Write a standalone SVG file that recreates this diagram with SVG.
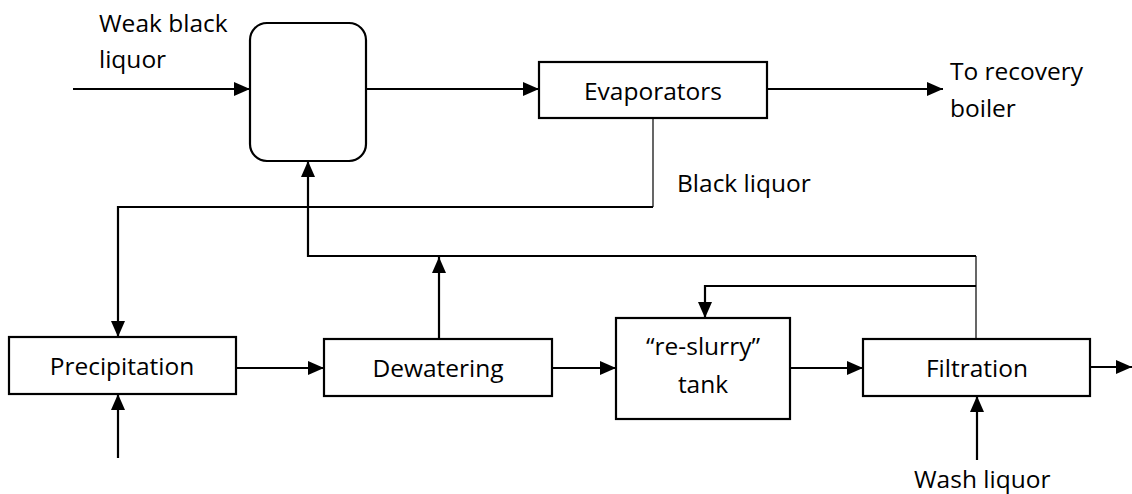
<svg xmlns="http://www.w3.org/2000/svg" width="1132" height="494" viewBox="0 0 1132 494">
<style>
.box{fill:#fff;stroke:#000;stroke-width:2.2}
.ln{fill:none;stroke:#000;stroke-width:2.2}
.thin{fill:none;stroke:#000;stroke-width:1.2}
.t{font-family:"Open Sans","Liberation Sans",sans-serif;font-size:24.5px;fill:#000}
.c{text-anchor:middle}
</style>
<defs>
<marker id="ah" markerUnits="userSpaceOnUse" markerWidth="17" markerHeight="15" refX="16" refY="7" orient="auto">
<path d="M0,0 L16,7 L0,14 Z" fill="#000"/>
</marker>
</defs>
<rect width="1132" height="494" fill="#fff"/>
<g id="connectors">
<path class="ln" d="M73,89 L250,89" marker-end="url(#ah)"/>
<path class="ln" d="M366,89 L539,89" marker-end="url(#ah)"/>
<path class="ln" d="M767,89 L943,89" marker-end="url(#ah)"/>
<path class="thin" d="M653,118 L653,207"/>
<path class="ln" d="M653,207 L118,207 L118,337" marker-end="url(#ah)"/>
<path class="ln" d="M118,458 L118,394" marker-end="url(#ah)"/>
<path class="ln" d="M236,368 L324,368" marker-end="url(#ah)"/>
<path class="ln" d="M439,339 L439,257" marker-end="url(#ah)"/>
<path class="thin" d="M976,339 L976,256"/>
<path class="ln" d="M976,256 L308,256 L308,161" marker-end="url(#ah)"/>
<path class="ln" d="M976,286 L705,286 L705,318" marker-end="url(#ah)"/>
<path class="ln" d="M552,368 L616,368" marker-end="url(#ah)"/>
<path class="ln" d="M790,368 L863,368" marker-end="url(#ah)"/>
<path class="ln" d="M1090,367 L1132,367" marker-end="url(#ah)"/>
<path class="ln" d="M977,460 L977,396" marker-end="url(#ah)"/>
</g>
<g id="mixer"><rect class="box" x="250" y="23" width="116" height="138" rx="17"/></g>
<g id="evaporators"><rect class="box" x="539" y="62" width="228" height="56"/><text class="t c" x="653" y="100">Evaporators</text></g>
<g id="precipitation"><rect class="box" x="9" y="337" width="227" height="57"/><text class="t c" x="122" y="375">Precipitation</text></g>
<g id="dewatering"><rect class="box" x="324" y="339" width="228" height="57"/><text class="t c" x="438" y="377">Dewatering</text></g>
<g id="reslurry"><rect class="box" x="616" y="318" width="174" height="101"/><text class="t c" x="703" y="355">“re-slurry”</text><text class="t c" x="703" y="393">tank</text></g>
<g id="filtration"><rect class="box" x="863" y="339" width="227" height="57"/><text class="t c" x="977" y="377">Filtration</text></g>
<g id="labels">
<text class="t" x="99" y="32">Weak black</text>
<text class="t" x="99" y="68">liquor</text>
<text class="t" x="950" y="80">To recovery</text>
<text class="t" x="950" y="117">boiler</text>
<text class="t" x="677" y="192">Black liquor</text>
<text class="t" x="914" y="488">Wash liquor</text>
</g>
</svg>
